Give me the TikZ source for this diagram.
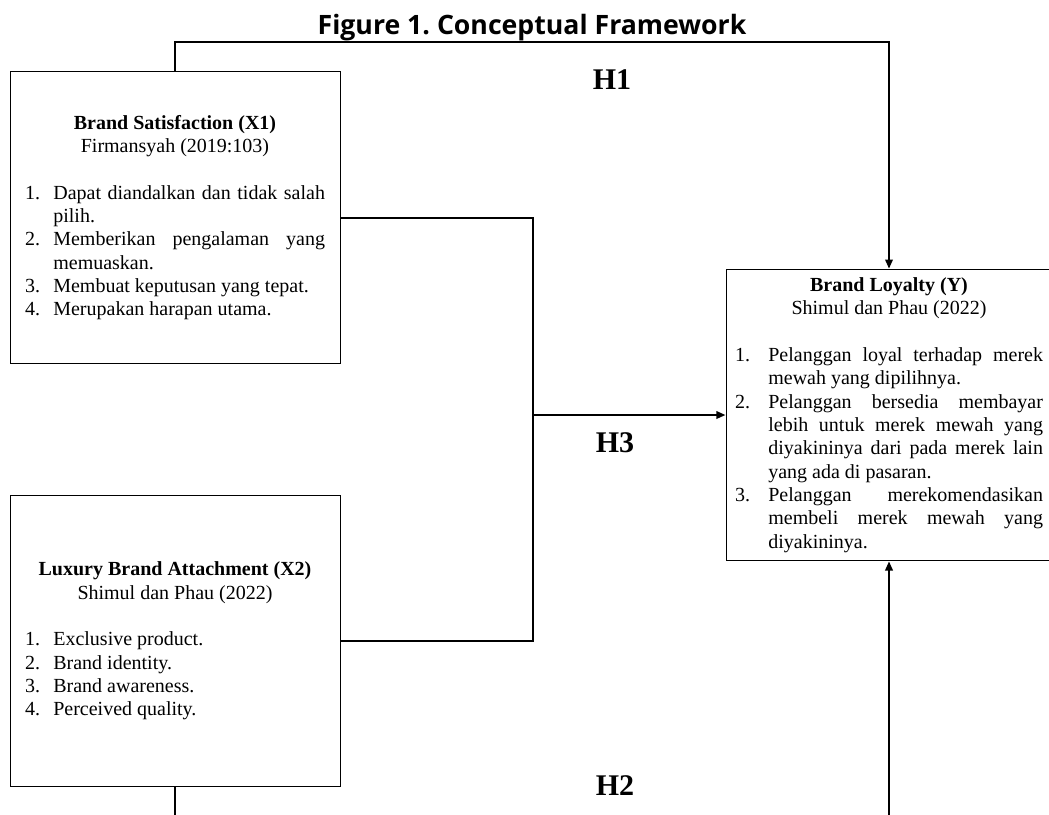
\documentclass[tikz,border=0pt]{standalone}
\usepackage{fontspec}
\setmainfont{Liberation Serif}
\newfontfamily\headfont{Open Sans}
\usetikzlibrary{arrows.meta, positioning, calc}

\frenchspacing
\hyphenpenalty=10000
\exhyphenpenalty=10000
\tolerance=9999
\hbadness=10000

\newlength{\itmhang}
\setlength{\itmhang}{17pt}
\newcommand{\boxhead}[2]{{\noindent\centering\textbf{#1}\par #2\par}\vskip 14pt}
\newcommand{\itm}[2]{\noindent\hangindent=\itmhang\hangafter=1\makebox[\itmhang][l]{#1}#2\par}

\begin{document}
\begin{tikzpicture}[x=0.6pt, y=-0.6pt, >={Triangle[length=5.5pt, width=4.5pt]},
  factor/.style={draw, line width=0.6pt, inner xsep=9pt, inner ysep=0pt,
                 text width=180pt, minimum height=175pt, align=justify,
                 font=\fontsize{12}{14}\selectfont},
  link/.style={line width=1.2pt},
  hyp/.style={font=\fontsize{18}{20}\selectfont\bfseries}]
  \useasboundingbox (0,0) rectangle (1049,814);
  \clip (0,0) rectangle (1049,814);

  % Title
  \node[font=\headfont\fontsize{16}{18}\selectfont\bfseries] (title) at (532,28)
       {Figure 1. Conceptual Framework};

  % Variables
  \node[factor] (X1) at (175,217.5) {%
    \boxhead{Brand Satisfaction (X1)}{Firmansyah (2019:103)}
    \itm{1.}{Dapat diandalkan dan tidak salah pilih.}
    \itm{2.}{Memberikan pengalaman yang memuaskan.}
    \itm{3.}{Membuat keputusan yang tepat.}
    \itm{4.}{Merupakan harapan utama.}};

  \node[factor] (X2) at (175,641) {%
    \boxhead{Luxury Brand Attachment (X2)}{Shimul dan Phau (2022)}
    \itm{1.}{Exclusive product.}
    \itm{2.}{Brand identity.}
    \itm{3.}{Brand awareness.}
    \itm{4.}{Perceived quality.}};

  \node[factor, text width=184.8pt, inner xsep=5.4pt] (Y) at (889,415) {%
    \setlength{\itmhang}{20pt}%
    \boxhead{Brand Loyalty (Y)}{Shimul dan Phau (2022)}
    \itm{1.}{Pelanggan loyal terhadap merek mewah yang dipilihnya.}
    \itm{2.}{Pelanggan bersedia membayar lebih untuk merek mewah yang diyakininya dari pada merek lain yang ada di pasaran.}
    \itm{3.}{Pelanggan merekomendasikan membeli merek mewah yang diyakininya.}};

  % Hypotheses
  \coordinate (h1) at (530,42);
  \coordinate (h3) at (533,415);
  \coordinate (h2) at (530,840);
  \draw[link,->] (X1.north) |- (h1) -| (Y.north);
  \draw[link] (X1.east) -| (h3) |- (X2.east);
  \draw[link,->] (h3) -- (Y.west);
  \draw[link,->] (X2.south) |- (h2) -| (Y.south);

  \node[hyp] (lh1) at (612,80) {H1};
  \node[hyp] (lh3) at (615,443) {H3};
  \node[hyp] (lh2) at (615,786) {H2};
\end{tikzpicture}
\end{document}
